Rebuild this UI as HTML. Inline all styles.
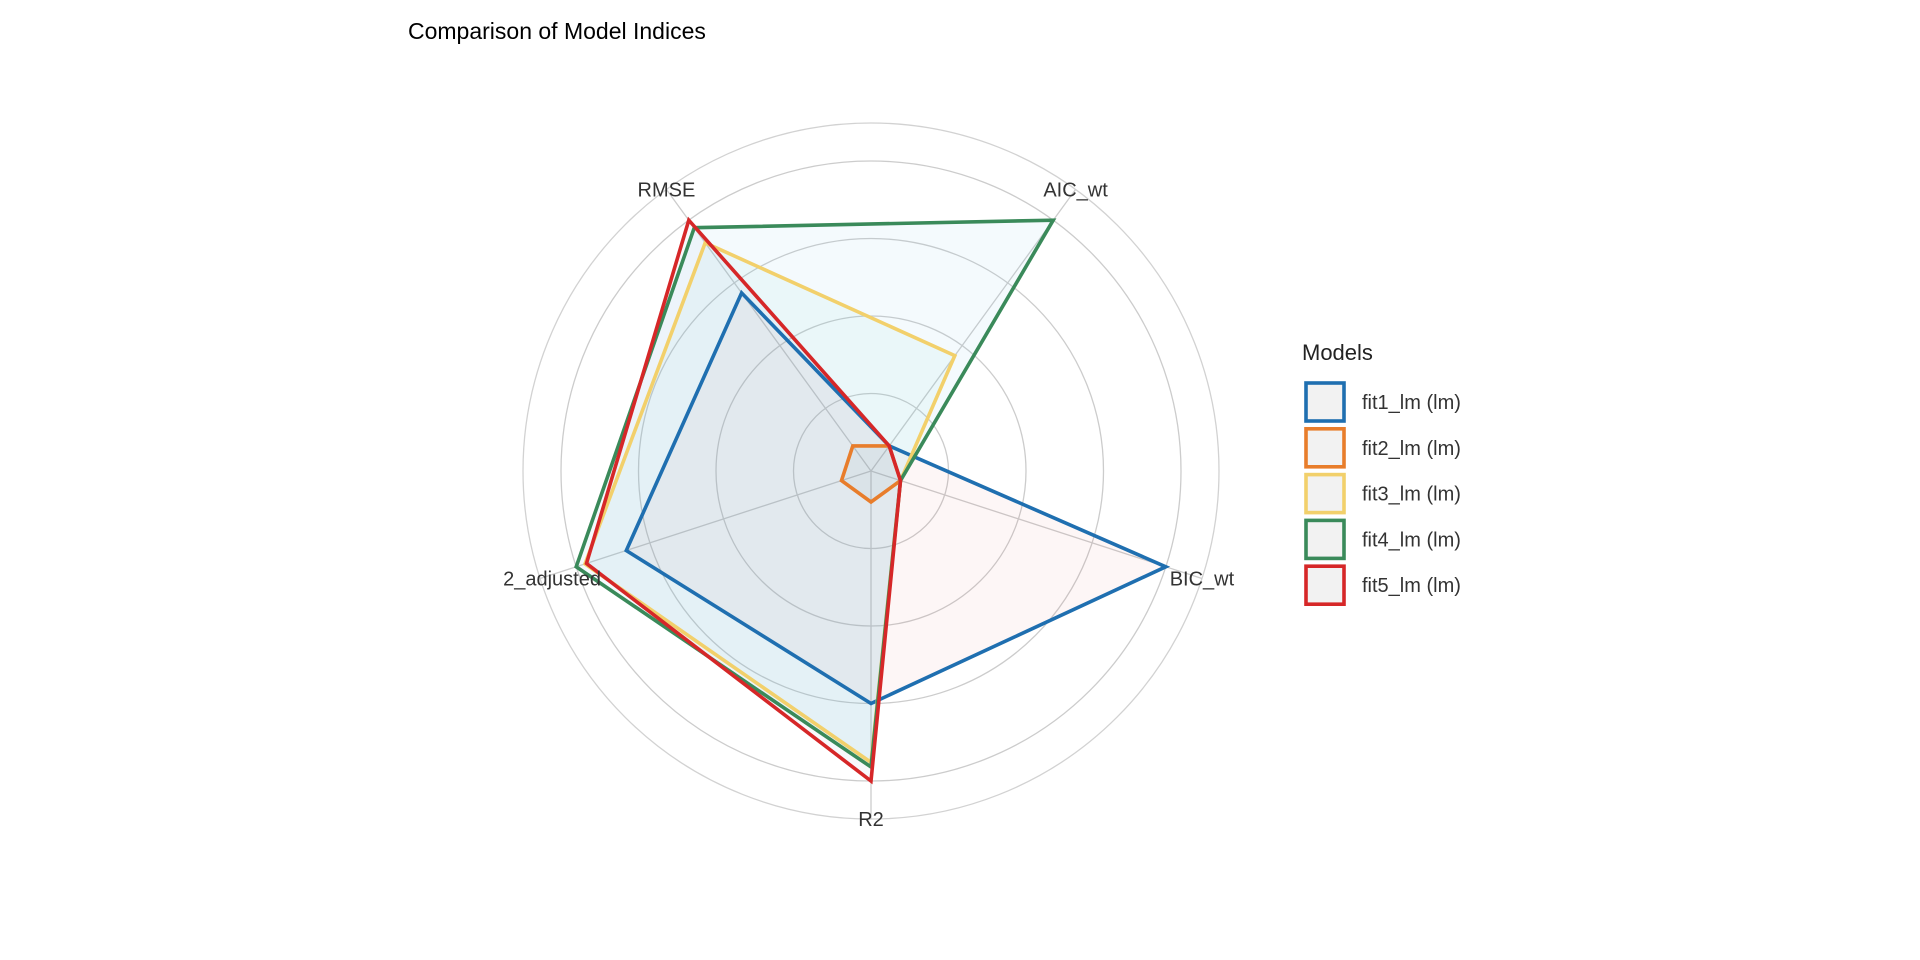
<!DOCTYPE html>
<html><head><meta charset="utf-8"><style>
html,body{margin:0;padding:0;background:#fff;}
svg{display:block;font-family:"Liberation Sans",Arial,sans-serif;}
</style></head><body>
<svg id="chart" width="1920" height="960" viewBox="0 0 1920 960">
<rect width="1920" height="960" fill="#fff"/>
<text x="408" y="39" font-size="23" fill="#000">Comparison of Model Indices</text>
<g id="grid"></g><g id="fills"></g><g id="lines"></g><g id="labels"></g><g id="legend"></g>
</svg>
<script>
const axes = ["R2", "BIC_wt", "AIC_wt", "RMSE", "R2_adjusted"];
const axisLabels = ["R2", "BIC_wt", "AIC_wt", "RMSE", "2_adjusted"];
const models = ["fit1_lm (lm)", "fit2_lm (lm)", "fit3_lm (lm)", "fit4_lm (lm)", "fit5_lm (lm)"];
const fit1 = [0.75, 1.0, 0.1, 0.71, 0.83];
const fit2 = [0.1, 0.1, 0.1, 0.1, 0.1];
const fit3 = [0.94, 0.1, 0.46, 0.91, 0.97];
const fit4 = [0.955, 0.1, 1.0, 0.97, 1.0];
const fit5 = [1.0, 0.1, 0.1, 1.0, 0.965];
const series = [fit1, fit2, fit3, fit4, fit5];
const colors = ["#1f6fb0", "#e87d2b", "#f2d06b", "#3a8a5a", "#d62728"];
const fills = ["rgba(225,80,80,0.05)", "rgba(120,120,120,0.06)", "rgba(70,200,180,0.06)", "rgba(130,200,235,0.09)", "rgba(120,130,190,0.05)"];
const gridLevels = [0.25, 0.5, 0.75, 1.0];

const NS = "http://www.w3.org/2000/svg";
const cx = 871, cy = 471, R = 310, labelR = 348;
function ang(i){ return Math.PI/2 - i*2*Math.PI/axes.length; }
function pt(i, v){ const a = ang(i); return [cx + v*R*Math.cos(a), cy + v*R*Math.sin(a)]; }
function mk(tag, attrs, parent){ const e = document.createElementNS(NS, tag); for (const k in attrs) e.setAttribute(k, attrs[k]); parent.appendChild(e); return e; }

const grid = document.getElementById('grid');
gridLevels.forEach((g, k) => {
  const c = mk('circle', {cx: cx, cy: cy, r: g*R, fill: 'none', stroke: '#cccccc', 'stroke-width': 1.3}, grid);
  
  
});
const oc = mk('circle', {cx: cx, cy: cy, r: labelR, fill: 'none', stroke: '#d2d2d2', 'stroke-width': 1.3}, grid);


axes.forEach((a, i) => {
  const p = pt(i, labelR / R);
  const l = mk('line', {x1: cx, y1: cy, x2: p[0], y2: p[1], stroke: '#cccccc', 'stroke-width': 1.3}, grid);
  
  
});

const fg = document.getElementById('fills'), lg = document.getElementById('lines');
series.forEach((s, j) => {
  const pts = s.map((v, i) => pt(i, v).map(n => n.toFixed(1)).join(',')).join(' ');
  const f = mk('polygon', {points: pts, fill: fills[j], stroke: 'none'}, fg);
  
  
});
series.forEach((s, j) => {
  const pts = s.map((v, i) => pt(i, v).map(n => n.toFixed(1)).join(',')).join(' ');
  const p = mk('polygon', {points: pts, fill: 'none', stroke: colors[j], 'stroke-width': 3.6, 'stroke-linejoin': 'miter'}, lg);
  
  
});

const lb = document.getElementById('labels');
axes.forEach((a, i) => {
  const p = pt(i, labelR / R);
  let x = p[0];
  if (i === 4) x += 12;
  const t = mk('text', {x: x, y: p[1] + 7, 'font-size': 20, fill: '#333', 'text-anchor': 'middle'}, lb);
  t.textContent = axisLabels[i];
  
  
});

const leg = document.getElementById('legend');
const lt = mk('text', {x: 1302, y: 360, 'font-size': 22, fill: '#222'}, leg);
lt.textContent = 'Models';


models.forEach((m, j) => {
  const y = 402 + j*45.8;
  const g = mk('g', {}, leg);
  
  
  const r = mk('rect', {x: 1306, y: y - 19, width: 38, height: 38, fill: '#f2f2f2', stroke: colors[j], 'stroke-width': 3.6}, g);
  
  
  const t = mk('text', {x: 1362, y: y + 7, 'font-size': 20, fill: '#333'}, g);
  t.textContent = m;
  
  
});
</script>
</body></html>
